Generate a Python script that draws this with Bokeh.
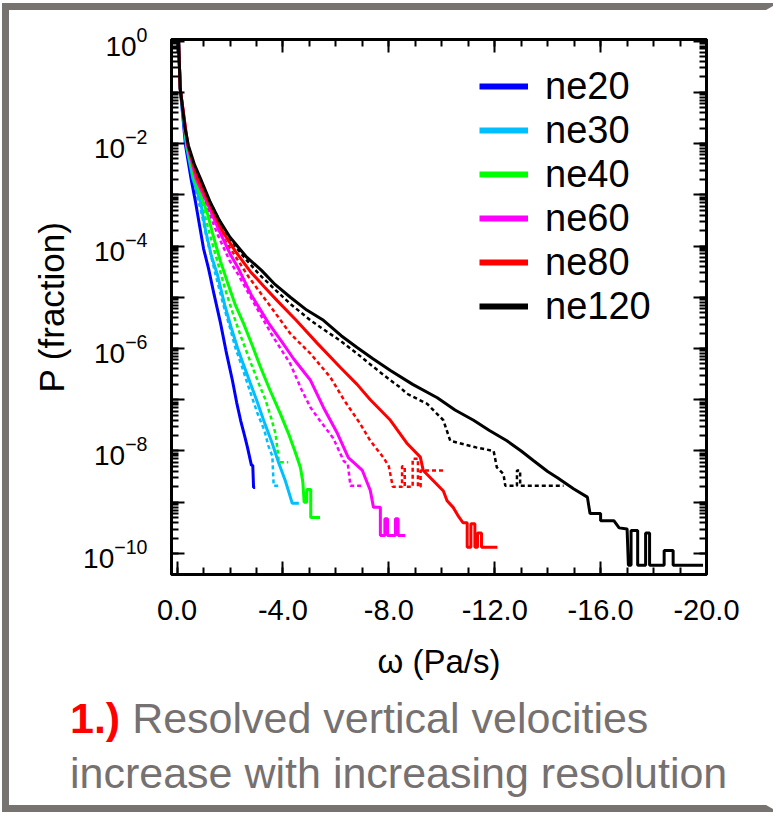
from bokeh.plotting import figure
from bokeh.layouts import column
from bokeh.models import (Range1d, FixedTicker, LogAxis, LinearAxis, LogTickFormatter,
                          CustomJSTickFormatter, Legend, LegendItem, Div)
from bokeh.embed import file_html
from bokeh.resources import INLINE

# ---- data: omega magnitude (Pa/s, plotted as negative) and log10(P) ----
ne20_w = [0.05, 0.12, 0.32, 0.53, 0.70, 1.0, 1.19, 1.4, 1.64, 1.85, 2.09, 2.25, 2.4, 2.55, 2.66, 2.81, 2.86, 2.89, 2.95]
ne20_p = [0.1, -0.93, -2.04, -2.69, -3.15, -4.05, -4.44, -4.95, -5.5, -6.05, -6.62, -7.05, -7.4, -7.7, -7.93, -8.28, -8.28, -8.71, -8.71]

ne30_w = [0.05, 0.12, 0.35, 0.6, 0.89, 1.08, 1.3, 1.52, 1.8, 2.05, 2.28, 2.5, 2.77, 3.0, 3.27, 3.45, 3.6, 3.83, 4.09, 4.28, 4.35, 4.6]
ne30_p = [0.1, -0.93, -2.04, -2.69, -3.15, -3.7, -4.2, -4.55, -5.15, -5.6, -5.98, -6.3, -6.68, -7.0, -7.4, -7.65, -7.86, -8.22, -8.58, -8.9, -9.02, -9.02]
ne30d_w = [0.35, 0.6, 0.9, 1.1, 1.45, 1.75, 2.0, 2.2, 2.45, 2.7, 3.04, 3.3, 3.45, 3.6, 3.65, 3.85]
ne30d_p = [-2.1, -2.75, -3.3, -3.8, -4.55, -5.15, -5.6, -5.98, -6.35, -6.75, -7.27, -7.6, -7.9, -8.1, -8.68, -8.68]

ne40_w = [0.05, 0.12, 0.38, 0.65, 1.0, 1.15, 1.34, 1.64, 1.9, 2.2, 2.51, 2.85, 3.15, 3.5, 3.9, 4.21, 4.45, 4.66, 4.75, 4.8, 4.9, 4.9, 5.05, 5.05, 5.4]
ne40_p = [0.1, -0.93, -2.04, -2.69, -3.15, -3.37, -3.75, -4.3, -4.7, -5.15, -5.51, -5.95, -6.36, -6.8, -7.27, -7.66, -8.0, -8.32, -8.6, -9.0, -9.0, -8.75, -8.75, -9.3, -9.3]
ne40d_w = [0.38, 0.65, 1.0, 1.25, 1.55, 1.85, 2.1, 2.4, 2.8, 3.1, 3.34, 3.55, 3.72, 3.83, 3.83, 4.2]
ne40d_p = [-2.1, -2.75, -3.3, -3.8, -4.35, -4.9, -5.3, -5.75, -6.3, -6.7, -7.0, -7.35, -7.66, -8.13, -8.22, -8.22]

ne60_w = [0.05, 0.12, 0.4, 0.72, 1.13, 1.59, 2.0, 2.32, 2.8, 3.45, 4.0, 4.4, 5.04, 5.53, 6.06, 6.47, 7.0, 7.3, 7.42, 7.68, 7.68, 7.85, 7.85, 7.95, 7.95, 8.25, 8.25, 8.35, 8.35, 8.62]
ne60_p = [0.1, -0.93, -2.04, -2.69, -3.15, -3.7, -4.15, -4.44, -4.95, -5.5, -5.9, -6.2, -6.62, -7.15, -7.66, -8.13, -8.38, -8.77, -9.1, -9.1, -9.65, -9.65, -9.32, -9.32, -9.65, -9.65, -9.32, -9.32, -9.65, -9.65]
ne60d_w = [0.4, 0.72, 1.13, 1.55, 2.0, 2.3, 3.0, 3.6, 4.28, 4.7, 5.04, 5.3, 5.9, 6.3, 6.45, 6.55, 7.05]
ne60d_p = [-2.1, -2.75, -3.25, -3.8, -4.3, -4.55, -5.2, -5.75, -6.3, -6.8, -7.15, -7.34, -7.75, -8.2, -8.25, -8.68, -8.68]

ne80_w = [0.05, 0.12, 0.41, 0.78, 1.2, 1.7, 2.2, 2.77, 3.3, 3.79, 4.5, 5.3, 6.17, 6.8, 7.3, 8.06, 8.7, 9.19, 9.3, 9.68, 10.06, 10.2, 10.43, 10.6, 10.8, 10.96, 10.96, 11.1, 11.1, 11.25, 11.25, 11.35, 11.35, 11.5, 11.5, 12.1]
ne80_p = [0.1, -0.93, -2.04, -2.69, -3.15, -3.7, -4.1, -4.5, -4.8, -5.07, -5.45, -5.9, -6.37, -6.7, -7.0, -7.4, -7.86, -8.12, -8.38, -8.58, -8.78, -8.97, -9.1, -9.25, -9.4, -9.4, -9.88, -9.88, -9.42, -9.42, -9.88, -9.88, -9.6, -9.6, -9.88, -9.88]
ne80d_w = [0.41, 0.78, 1.2, 1.7, 2.2, 2.7, 3.2, 3.7, 4.28, 5.04, 5.79, 6.3, 6.92, 7.3, 7.8, 8.0, 8.15, 8.5, 8.5, 8.6, 8.6, 8.9, 8.9, 9.1, 9.1, 9.2, 9.2, 10.1]
ne80d_p = [-2.1, -2.75, -3.25, -3.8, -4.2, -4.6, -4.95, -5.3, -5.71, -6.1, -6.56, -7.0, -7.47, -7.8, -8.13, -8.3, -8.7, -8.7, -8.3, -8.3, -8.7, -8.7, -8.15, -8.15, -8.7, -8.7, -8.38, -8.38]

ne120_w = [0.05, 0.12, 0.3, 0.43, 0.65, 0.89, 1.26, 1.6, 2.0, 2.6, 3.2, 3.7, 4.28, 4.9, 5.53, 6.2, 6.8, 7.4, 8.06, 8.9, 9.83, 10.5, 11.2, 11.8, 12.46, 13.0, 13.47, 14.0, 14.37, 14.99, 15.5, 15.6, 16.0, 16.0, 16.5, 16.7, 17.0, 17.05, 17.15, 17.15, 17.4, 17.4, 17.7, 17.7, 17.85, 17.85, 18.4, 18.4, 18.74, 18.74, 19.87]
ne120_p = [0.1, -0.93, -1.7, -2.04, -2.4, -2.69, -3.15, -3.5, -3.83, -4.2, -4.48, -4.75, -5.0, -5.25, -5.45, -5.75, -5.98, -6.2, -6.43, -6.7, -6.96, -7.2, -7.4, -7.6, -7.8, -8.0, -8.19, -8.4, -8.52, -8.74, -8.9, -9.22, -9.22, -9.36, -9.36, -9.5, -9.52, -10.23, -10.23, -9.55, -9.55, -10.23, -10.23, -9.6, -9.6, -10.23, -10.23, -9.94, -9.94, -10.23, -10.23]
ne120d_w = [0.43, 0.89, 1.3, 1.9, 2.5, 3.1, 3.7, 4.28, 5.04, 5.6, 6.17, 6.8, 7.42, 8.06, 8.43, 8.68, 9.45, 10.06, 10.32, 11.3, 11.96, 12.08, 12.33, 12.4, 12.84, 12.84, 12.96, 12.96, 14.6]
ne120d_p = [-2.1, -2.75, -3.2, -3.8, -4.2, -4.55, -4.85, -5.13, -5.45, -5.65, -5.85, -6.1, -6.36, -6.62, -6.76, -6.88, -7.08, -7.4, -7.8, -7.93, -8.0, -8.32, -8.45, -8.68, -8.68, -8.38, -8.38, -8.68, -8.68]

names = ["ne20", "ne30", "ne40", "ne60", "ne80", "ne120"]
colors = ["#0000FF", "#00BFFF", "#00FF00", "#FF00FF", "#FF0000", "#000000"]
x_tick_vals = [0, -4, -8, -12, -16, -20]
x_tick_labels = ["0.0", "-4.0", "-8.0", "-12.0", "-16.0", "-20.0"]
y_label_exps = [0, -2, -4, -6, -8, -10]
caption_num = "1.)"
caption_lines = ["Resolved vertical velocities", "increase with increasing resolution"]

solid = [(ne20_w, ne20_p), (ne30_w, ne30_p), (ne40_w, ne40_p), (ne60_w, ne60_p), (ne80_w, ne80_p), (ne120_w, ne120_p)]
dotted = [None, (ne30d_w, ne30d_p), (ne40d_w, ne40d_p), (ne60d_w, ne60d_p), (ne80d_w, ne80d_p), (ne120d_w, ne120d_p)]

FONT = "Liberation Sans"
GRAY = "#777371"
W = 757

p = figure(width=W, height=681, y_axis_type="log",
           x_range=Range1d(0.21, -20), y_range=Range1d(10 ** -10.41, 10 ** 0.03),
           output_backend="svg", toolbar_location=None,
           min_border_left=162, min_border_right=W - 162 - 535, min_border_top=29,
           min_border_bottom=117, background_fill_color="white", border_fill_color="white")
p.xgrid.visible = False
p.ygrid.visible = False
p.outline_line_color = "black"
p.outline_line_width = 3

major_y = [10.0 ** k for k in range(0, -11, -1)]
minor_y = [m * 10.0 ** k for k in range(0, -11, -1) for m in range(1, 10)]
xt = FixedTicker(ticks=x_tick_vals, minor_ticks=list(range(0, -21, -1)))
yt = FixedTicker(ticks=major_y, minor_ticks=minor_y)

def style_axis(ax):
    ax.axis_line_width = 3
    ax.axis_line_color = "black"
    ax.major_tick_in = 13
    ax.major_tick_out = 0
    ax.minor_tick_in = 7
    ax.minor_tick_out = 0
    ax.major_tick_line_width = 2
    ax.minor_tick_line_width = 2
    ax.major_tick_line_color = "black"
    ax.minor_tick_line_color = "black"
    ax.major_label_text_color = "black"
    ax.major_label_text_font = FONT

xa = p.xaxis[0]
xa.ticker = xt
style_axis(xa)
xa.major_label_overrides = {v: t for v, t in zip(x_tick_vals, x_tick_labels)}
xa.major_label_text_font_size = "29px"
xa.major_label_standoff = 25
xa.axis_label = "ω (Pa/s)"
xa.axis_label_text_font = FONT
xa.axis_label_text_font_size = "33px"
xa.axis_label_text_font_style = "normal"
xa.axis_label_text_color = "black"
xa.axis_label_standoff = 20

ya = p.yaxis[0]
ya.ticker = yt
style_axis(ya)
ya.formatter = LogTickFormatter()
ya.major_label_overrides = {10.0 ** k: "" for k in range(0, -11, -1) if k not in y_label_exps}
ya.major_label_text_font_size = "28px"
ya.major_label_standoff = 24
ya.axis_label = "P (fraction)"
ya.axis_label_text_font = FONT
ya.axis_label_text_font_size = "35px"
ya.axis_label_text_font_style = "normal"
ya.axis_label_text_color = "black"
ya.axis_label_standoff = 9

blank = CustomJSTickFormatter(code="return ''")
top = LinearAxis(ticker=xt, formatter=blank)
style_axis(top)
p.add_layout(top, "above")
right = LogAxis(ticker=yt, formatter=blank)
style_axis(right)
p.add_layout(right, "right")

for i in range(len(names)):
    d = dotted[i]
    if d is not None:
        p.line([-w for w in d[0]], [10 ** v for v in d[1]], line_color=colors[i],
               line_width=2.5, line_dash="4 3")
for i in range(len(names)):
    w, v = solid[i]
    p.line([-a for a in w], [10 ** b for b in v], line_color=colors[i], line_width=3)

# legend proxies (outside the visible range) drawn with thick line samples
items = []
for i, n in enumerate(names):
    r = p.line(x=[50, 51], y=[1e5, 1e5], line_color=colors[i], line_width=6)
    items.append(LegendItem(label=n, renderers=[r]))
leg = Legend(items=items, location=(308, 246), border_line_color=None,
             background_fill_alpha=0, padding=0, margin=0, spacing=0,
             glyph_width=49, glyph_height=30, label_height=44, label_standoff=17,
             label_text_font=FONT, label_text_font_size="38px", label_text_color="black")
p.add_layout(leg, "center")

cap_html = (
    '<div style="font-family: \'Liberation Sans\', Arial, sans-serif; font-size: 43px; '
    'line-height: 55px; color: #767171; white-space: nowrap; padding-left: 61px;">'
    '<span style="color: #FF0000; font-weight: bold;">' + caption_num + '</span> '
    + caption_lines[0] + '<br>' + caption_lines[1] + '</div>'
)
cap = Div(text=cap_html, width=W, height=114, margin=0)

layout = column(p, cap, spacing=0,
                styles={"border-left": "7px solid " + GRAY, "border-top": "7px solid " + GRAY,
                        "border-bottom": "7px solid " + GRAY, "border-right": "12px solid white",
                        "margin-left": "2px", "margin-top": "3px",
                        "background-color": "white"})

open("out.html", "w").write(file_html(layout, INLINE))
